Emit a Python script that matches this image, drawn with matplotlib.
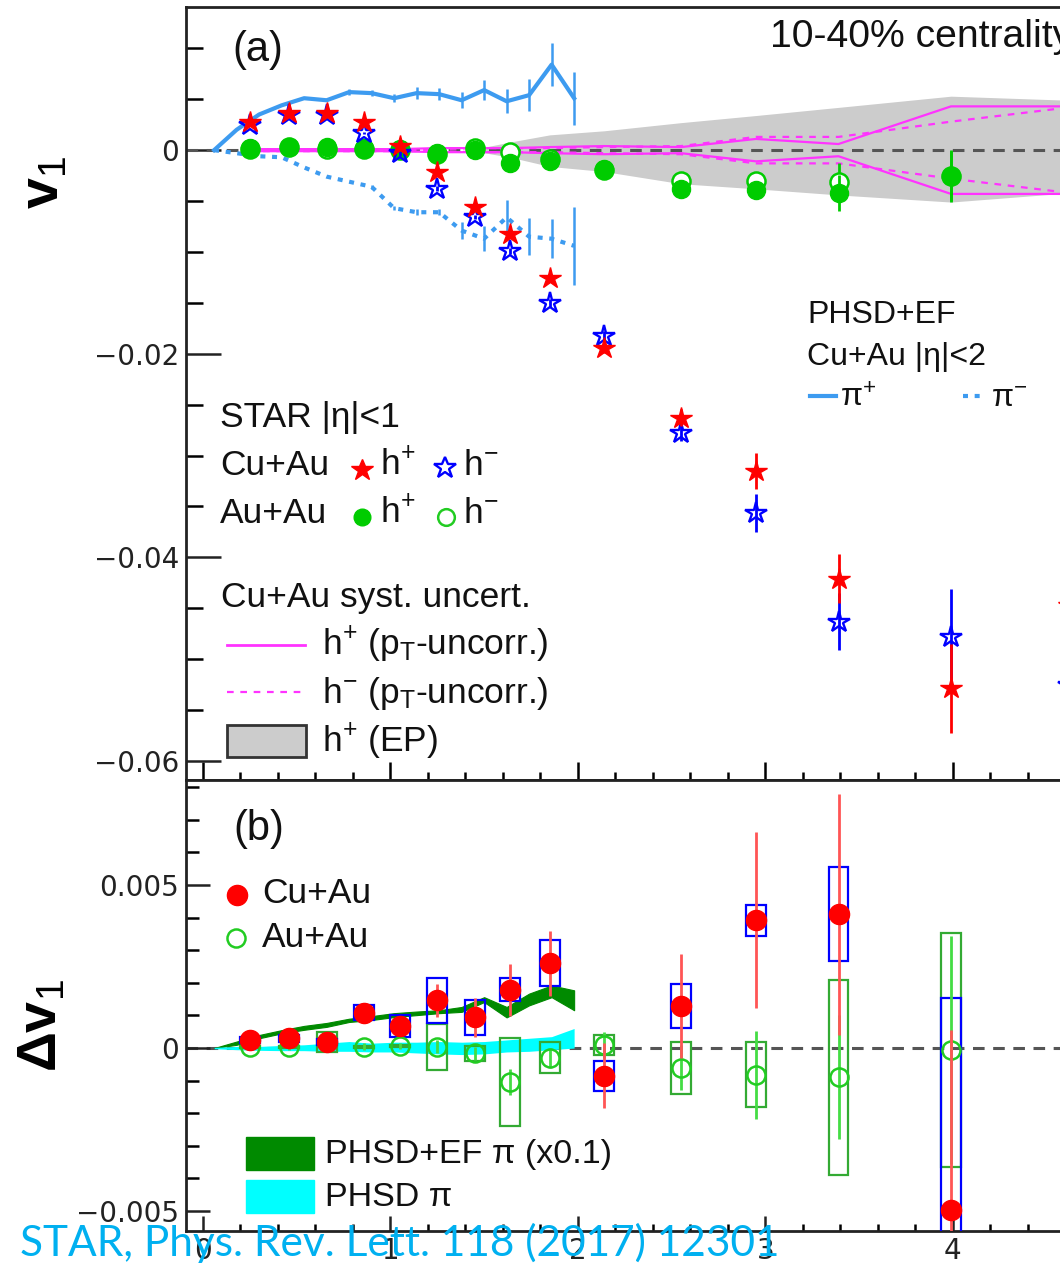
import numpy as np
import matplotlib
matplotlib.use("Agg")
import matplotlib.pyplot as plt
from matplotlib.patches import Rectangle
from matplotlib.lines import Line2D
from matplotlib.ticker import MultipleLocator, FuncFormatter

plt.rcParams['font.family'] = ['Liberation Sans', 'DejaVu Sans']
plt.rcParams['mathtext.fontset'] = 'custom'
plt.rcParams['mathtext.rm'] = 'Liberation Sans'
plt.rcParams['mathtext.it'] = 'Liberation Sans:italic'
plt.rcParams['mathtext.bf'] = 'Liberation Sans:bold'

W, H = 1060, 1263

# ---- panel (a): v1 vs pT ----
pt = [0.25, 0.46, 0.66, 0.86, 1.05, 1.25, 1.45, 1.64, 1.85, 2.14, 2.55, 2.95, 3.39, 3.99, 4.62]

cuau_pos = [0.00279, 0.00362, 0.00362, 0.00279, 0.00042, -0.00214, -0.00559, -0.00821,
            -0.01254, -0.01944, -0.02627, -0.03153, -0.04210, -0.05288, -0.0447]
cuau_pos_err = [0.0001, 0.0001, 0.0001, 0.0001, 0.0002, 0.0002, 0.0002, 0.0003,
                0.0004, 0.0005, 0.0008, 0.0018, 0.0024, 0.0044, 0.005]
cuau_neg = [0.00246, 0.00345, 0.00345, 0.00165, -0.00033, -0.00377, -0.00657, -0.00992,
            -0.01504, -0.01823, -0.02775, -0.03563, -0.04631, -0.04778, -0.0525]
cuau_neg_err = [0.0001, 0.0001, 0.0001, 0.0001, 0.0002, 0.0002, 0.0002, 0.0003,
                0.0004, 0.0005, 0.0008, 0.0019, 0.0028, 0.0047, 0.005]

auau_pos = [0.00017, 0.00033, 0.00027, 0.00017, 0.0001, -0.00033, 0.0, -0.00131,
            -0.00105, -0.0019, -0.00377, -0.00394, -0.00421, -0.00256]
auau_pos_err = [0.0001, 0.0001, 0.0001, 0.0001, 0.0001, 0.0001, 0.0001, 0.0002,
                0.0002, 0.0003, 0.0004, 0.0006, 0.0018, 0.0025]
auau_neg = [0.00013, 0.0003, 0.00012, 0.00013, 0.0, -0.00035, 0.0002, -0.0002,
            -0.00085, -0.002, -0.003, -0.003, -0.0031, -0.0025]
auau_neg_err = [0.0001, 0.0001, 0.0001, 0.0001, 0.0001, 0.0001, 0.0001, 0.0002,
                0.0002, 0.0003, 0.0004, 0.0006, 0.0018, 0.0025]

# Cu+Au syst. uncert. (pT-uncorrelated), half widths around zero
sys_pos = [0.0001, 0.0001, 0.0001, 0.0001, 0.0001, 0.0002, 0.0002, 0.0002,
           0.0003, 0.0004, 0.0003, 0.0011, 0.0006, 0.0043, 0.0043]
sys_neg = [0.0001, 0.0001, 0.0001, 0.0001, 0.0001, 0.0001, 0.0002, 0.0002,
           0.0002, 0.0003, 0.0004, 0.0013, 0.0013, 0.0028, 0.0042]

# h+ (EP) band
ep_x = [1.45, 1.64, 1.85, 2.14, 2.55, 2.95, 3.39, 3.99, 4.62]
ep_up = [0.0001, 0.0008, 0.0015, 0.0019, 0.0027, 0.0034, 0.0042, 0.0053, 0.0049]
ep_lo = [-0.0001, -0.0007, -0.0016, -0.0021, -0.0033, -0.0038, -0.0044, -0.0051, -0.0042]

# PHSD+EF Cu+Au model
phsd_x = [0.06, 0.18, 0.30, 0.42, 0.54, 0.66, 0.78, 0.90, 1.02, 1.14, 1.26,
          1.38, 1.50, 1.62, 1.74, 1.86, 1.98]
phsd_pip = [0.0, 0.0020, 0.0035, 0.0044, 0.0051, 0.0049, 0.0057, 0.0056, 0.0051,
            0.0056, 0.0055, 0.0049, 0.0059, 0.0048, 0.0054, 0.0084, 0.0051]
phsd_pip_err = [0, 0, 0, 0, 0, 0, 0.0003, 0.0003, 0.0004, 0.0006, 0.0006,
                0.0008, 0.0010, 0.0012, 0.0016, 0.0021, 0.0026]
phsd_pim = [0.0, -0.0003, -0.0006, -0.0007, -0.0017, -0.0026, -0.0031, -0.0036,
            -0.0057, -0.0061, -0.0061, -0.0079, -0.0087, -0.0066, -0.0085, -0.0087, -0.0094]
phsd_pim_err = [0, 0, 0, 0, 0, 0, 0, 0.0002, 0.0002, 0.0003, 0.0003,
                0.0008, 0.0012, 0.0017, 0.0018, 0.0019, 0.0038]

# ---- panel (b): delta v1 ----
dpt = pt[:14]
dv_cuau = [0.00024, 0.0003, 0.00019, 0.00109, 0.00068, 0.00146, 0.00094, 0.00179,
           0.0026, -0.00085, 0.00128, 0.00392, 0.0041, -0.00496]
dv_cuau_stat = [0.0001, 0.0001, 0.0001, 0.0002, 0.0003, 0.0005, 0.0006, 0.0008,
                0.001, 0.001, 0.0016, 0.0027, 0.0037, 0.0055]
dv_cuau_sys = [0.0001, 0.0001, 0.0001, 0.00023, 0.00033, 0.0007, 0.00053, 0.00036,
               0.0007, 0.00046, 0.00067, 0.00047, 0.00144, 0.0065]
dv_auau = [0.00004, 0.00004, 0.00018, 0.00004, 0.00007, 0.00004, -0.00016, -0.00105,
           -0.0003, 0.00009, -0.0006, -0.00082, -0.0009, -0.00006]
dv_auau_stat = [0.0001, 0.0001, 0.0001, 0.0001, 0.0001, 0.0002, 0.0002, 0.0004,
                0.0003, 0.0004, 0.0007, 0.00135, 0.0019, 0.0035]
dv_auau_sys = [0.00003, 0.00003, 0.0003, 0.00003, 0.00003, 0.0007, 0.00023, 0.00135,
               0.00048, 0.0003, 0.0008, 0.001, 0.003, 0.0036]

ef_up = [0.0, 0.0002, 0.0004, 0.00055, 0.00068, 0.00077, 0.0009, 0.00098, 0.00107,
         0.00112, 0.00116, 0.00126, 0.00156, 0.00126, 0.00167, 0.00192, 0.00177]
ef_lo = [0.0, 0.0001, 0.0003, 0.00045, 0.00056, 0.00065, 0.0008, 0.00086, 0.00095,
         0.00101, 0.00107, 0.00111, 0.00141, 0.00094, 0.00131, 0.00156, 0.00116]
phsd_up = [0.00002, 0.00005, 0.00005, 0.00008, 0.0001, 0.00015, 0.0002, 0.00015, 0.00018,
           0.00018, 0.0002, 0.00018, 0.0002, 0.00025, 0.0003, 0.00035, 0.0006]
phsd_lo = [-0.00002, -0.00005, -0.00007, -0.00008, -0.00008, -0.0001, -0.0001, -0.00012,
           -0.00012, -0.00015, -0.00018, -0.0002, -0.00018, -0.00012, -0.0001, -0.00005, 0.0]

RED = '#FF0000'
BLUE = '#0000FF'
GREEN = '#00CC00'
MODEL = '#3D9BF0'
MAG = '#FF33FF'


def fp(x, y):
    return (x / W, 1 - y / H)


def fmt(v, pos):
    if abs(v) < 1e-9:
        return '0'
    return ('%g' % v).replace('-', '\u2212')


fig = plt.figure(figsize=(W / 100, H / 100), dpi=100)
xw = (5.0 + 0.09) * 187.5 / W
ax1 = fig.add_axes([186 / W, 1 - 780 / H, xw, (780 - 7) / H])
ax2 = fig.add_axes([186 / W, 1 - 1231 / H, xw, (1231 - 780) / H])

for ax in (ax1, ax2):
    ax.set_xlim(-0.09, 5.0)
    ax.xaxis.set_major_locator(MultipleLocator(1))
    ax.xaxis.set_minor_locator(MultipleLocator(0.2))
    ax.yaxis.set_major_formatter(FuncFormatter(fmt))
    ax.xaxis.set_major_formatter(FuncFormatter(fmt))
    for s in ax.spines.values():
        s.set_linewidth(2.0)
        s.set_color('#222222')

ax1.set_ylim(-0.06187, 0.01406)
ax2.set_ylim(-0.00561, 0.00822)
ax1.yaxis.set_major_locator(MultipleLocator(0.02))
ax1.yaxis.set_minor_locator(MultipleLocator(0.005))
ax2.yaxis.set_major_locator(MultipleLocator(0.005))
ax2.yaxis.set_minor_locator(MultipleLocator(0.001))

ax1.tick_params(axis='y', which='major', direction='in', length=25, width=1.8, pad=5,
                labelsize=20, labelfontfamily='DejaVu Sans', colors='#222222')
ax1.tick_params(axis='y', which='minor', direction='in', length=12, width=1.8)
ax1.tick_params(axis='x', which='major', direction='in', length=13, width=1.8, labelbottom=False)
ax1.tick_params(axis='x', which='minor', direction='in', length=6, width=1.8)
ax2.tick_params(axis='y', which='major', direction='in', length=17, width=1.8, pad=5,
                labelsize=20, labelfontfamily='DejaVu Sans', colors='#222222')
ax2.tick_params(axis='y', which='minor', direction='in', length=9, width=1.8)
ax2.tick_params(axis='x', which='major', direction='in', length=11, width=1.8, pad=4.5,
                labelsize=20, labelfontfamily='DejaVu Sans', colors='#222222')
ax2.tick_params(axis='x', which='minor', direction='in', length=5, width=1.8)

# ---- panel (a) drawing ----
ax1.fill_between(ep_x, ep_lo, ep_up, color='#CCCCCC', lw=0, zorder=1)
ax1.axhline(0, color='#555555', lw=2.2, dashes=(3.8, 2.8), zorder=2)
sp = np.array(sys_pos)
sn = np.array(sys_neg)
ax1.plot(pt, sp, color=MAG, lw=1.6, zorder=3)
ax1.plot(pt, -sp, color=MAG, lw=1.6, zorder=3)
ax1.plot(pt, sn, color=MAG, lw=1.6, dashes=(3, 3), zorder=3)
ax1.plot(pt, -sn, color=MAG, lw=1.6, dashes=(3, 3), zorder=3)

ax1.errorbar(phsd_x, phsd_pip, yerr=phsd_pip_err, color=MODEL, lw=3, elinewidth=1.8,
             capsize=0, zorder=4)
ax1.errorbar(phsd_x, phsd_pim, yerr=phsd_pim_err, color=MODEL, lw=3, elinewidth=1.8,
             capsize=0, dashes=(1.2, 1.6), zorder=4)

ax1.errorbar(pt[:14], auau_neg, yerr=auau_neg_err, fmt='o', ms=13, mfc='white', mec=GREEN,
             mew=1.8, ecolor=GREEN, elinewidth=2, capsize=0, zorder=5)
ax1.errorbar(pt[:14], auau_pos, yerr=auau_pos_err, fmt='o', ms=13, mfc=GREEN, mec=GREEN,
             ecolor=GREEN, elinewidth=2, capsize=0, zorder=6)
ax1.errorbar(pt, cuau_neg, yerr=cuau_neg_err, fmt='*', ms=16, mfc='none', mec=BLUE,
             mew=1.7, ecolor=BLUE, elinewidth=2, capsize=0, zorder=7)
ax1.errorbar(pt, cuau_pos, yerr=cuau_pos_err, fmt='*', ms=16, mfc=RED, mec=RED,
             ecolor=RED, elinewidth=2, capsize=0, zorder=8)

# ---- panel (b) drawing ----
ax2.axhline(0, color='#555555', lw=2.2, dashes=(3.8, 2.8), zorder=1)
ax2.fill_between(phsd_x, ef_lo, ef_up, color='#008A00', lw=0.8, edgecolor='#008A00', zorder=2)
ax2.fill_between(phsd_x, phsd_lo, phsd_up, color='#00FFFF', lw=0, zorder=2)
bw = 0.053
for x, y, s in zip(dpt, dv_auau, dv_auau_sys):
    ax2.add_patch(Rectangle((x - bw, y - s), 2 * bw, 2 * s, fill=False, ec='#33AA33',
                            lw=1.6, zorder=3))
for x, y, s in zip(dpt, dv_cuau, dv_cuau_sys):
    ax2.add_patch(Rectangle((x - bw, y - s), 2 * bw, 2 * s, fill=False, ec=BLUE,
                            lw=1.6, zorder=3))
ax2.errorbar(dpt, dv_auau, yerr=dv_auau_stat, fmt='o', ms=13, mfc='none', mec='#22CC22',
             mew=1.8, ecolor='#44DD44', elinewidth=2, capsize=0, zorder=4)
ax2.errorbar(dpt, dv_cuau, yerr=dv_cuau_stat, fmt='o', ms=14.5, mfc=RED, mec=RED,
             ecolor='#FF5555', elinewidth=2, capsize=0, zorder=5)

# ---- labels ----
fig.text(*fp(44, 182), 'v$_{1}$', rotation=90, ha='center', va='center',
         fontsize=40, fontweight='bold')
fig.text(*fp(42, 1025), '\u0394v$_{1}$', rotation=90, ha='center', va='center',
         fontsize=40, fontweight='bold')


def txt(x, y, s, size=25.5, **kw):
    fig.text(*fp(x, y), s, fontsize=size, va='baseline', ha='left', color='#111111', **kw)


def key_marker(x, y, **kw):
    fig.add_artist(Line2D([x / W], [1 - y / H], transform=fig.transFigure, **kw))


def key_line(x1, x2, y, **kw):
    fig.add_artist(Line2D([x1 / W, x2 / W], [1 - y / H, 1 - y / H], transform=fig.transFigure, **kw))


def key_box(x1, x2, y1, y2, **kw):
    fig.add_artist(Rectangle(fp(x1, y2), (x2 - x1) / W, (y2 - y1) / H,
                             transform=fig.transFigure, **kw))


txt(232, 61, '(a)', size=30)
txt(770, 47, '10-40% centrality', size=28.2)
txt(220, 427, 'STAR |\u03b7|<1')
txt(220, 475, 'Cu+Au')
key_marker(361.7, 470, marker='*', ms=16.5, mfc=RED, mec=RED, ls='none')
txt(380, 475, 'h$^{+}$')
key_marker(445, 468, marker='*', ms=16.5, mfc='none', mec=BLUE, mew=1.7, ls='none')
txt(463, 475, 'h$^{-}$')
txt(220, 523, 'Au+Au')
key_marker(361.7, 516.7, marker='o', ms=12, mfc=GREEN, mec=GREEN, ls='none')
txt(380, 523, 'h$^{+}$')
key_marker(446, 516.7, marker='o', ms=12, mfc='none', mec='#22CC22', mew=1.8, ls='none')
txt(463, 523, 'h$^{-}$')
txt(221, 607, 'Cu+Au syst. uncert.')
key_line(227, 305, 645, color=MAG, lw=2)
txt(322, 655, 'h$^{+}$ (p$_{\\rm T}$-uncorr.)')
key_line(227, 305, 692, color=MAG, lw=1.6, dashes=(3, 3))
txt(322, 703, 'h$^{-}$ (p$_{\\rm T}$-uncorr.)')
key_box(227, 306, 725, 757, fc='#CCCCCC', ec='#333333', lw=2)
txt(322, 752, 'h$^{+}$ (EP)')

txt(807, 323, 'PHSD+EF', size=23)
txt(807, 365, 'Cu+Au |\u03b7|<2', size=23)
key_line(810, 836, 396, color=MODEL, lw=3)
txt(840, 407, '\u03c0$^{+}$', size=23)
key_line(963, 985, 396, color=MODEL, lw=3, dashes=(1.2, 1.6))
txt(991, 407, '\u03c0$^{-}$', size=23)

txt(233, 840, '(b)', size=30)
key_marker(236.7, 895, marker='o', ms=14.5, mfc=RED, mec=RED, ls='none')
txt(262, 903, 'Cu+Au')
key_marker(236, 938, marker='o', ms=13, mfc='none', mec='#22CC22', mew=1.8, ls='none')
txt(262, 947, 'Au+Au')
key_box(246, 314, 1137, 1170, fc='#008A00', ec='#008A00', lw=1)
txt(325, 1163, 'PHSD+EF \u03c0 (x0.1)', size=24.5)
key_box(246, 314, 1180, 1213, fc='#00FFFF', ec='#00FFFF', lw=1)
txt(325, 1206, 'PHSD \u03c0', size=24.5)

fig.text(*fp(20, 1256), 'STAR, Phys. Rev. Lett. 118 (2017) 12301', fontsize=30.5,
         family='Lato', color='#00B0F0', va='baseline', ha='left')

fig.savefig('out.png', dpi=100)
